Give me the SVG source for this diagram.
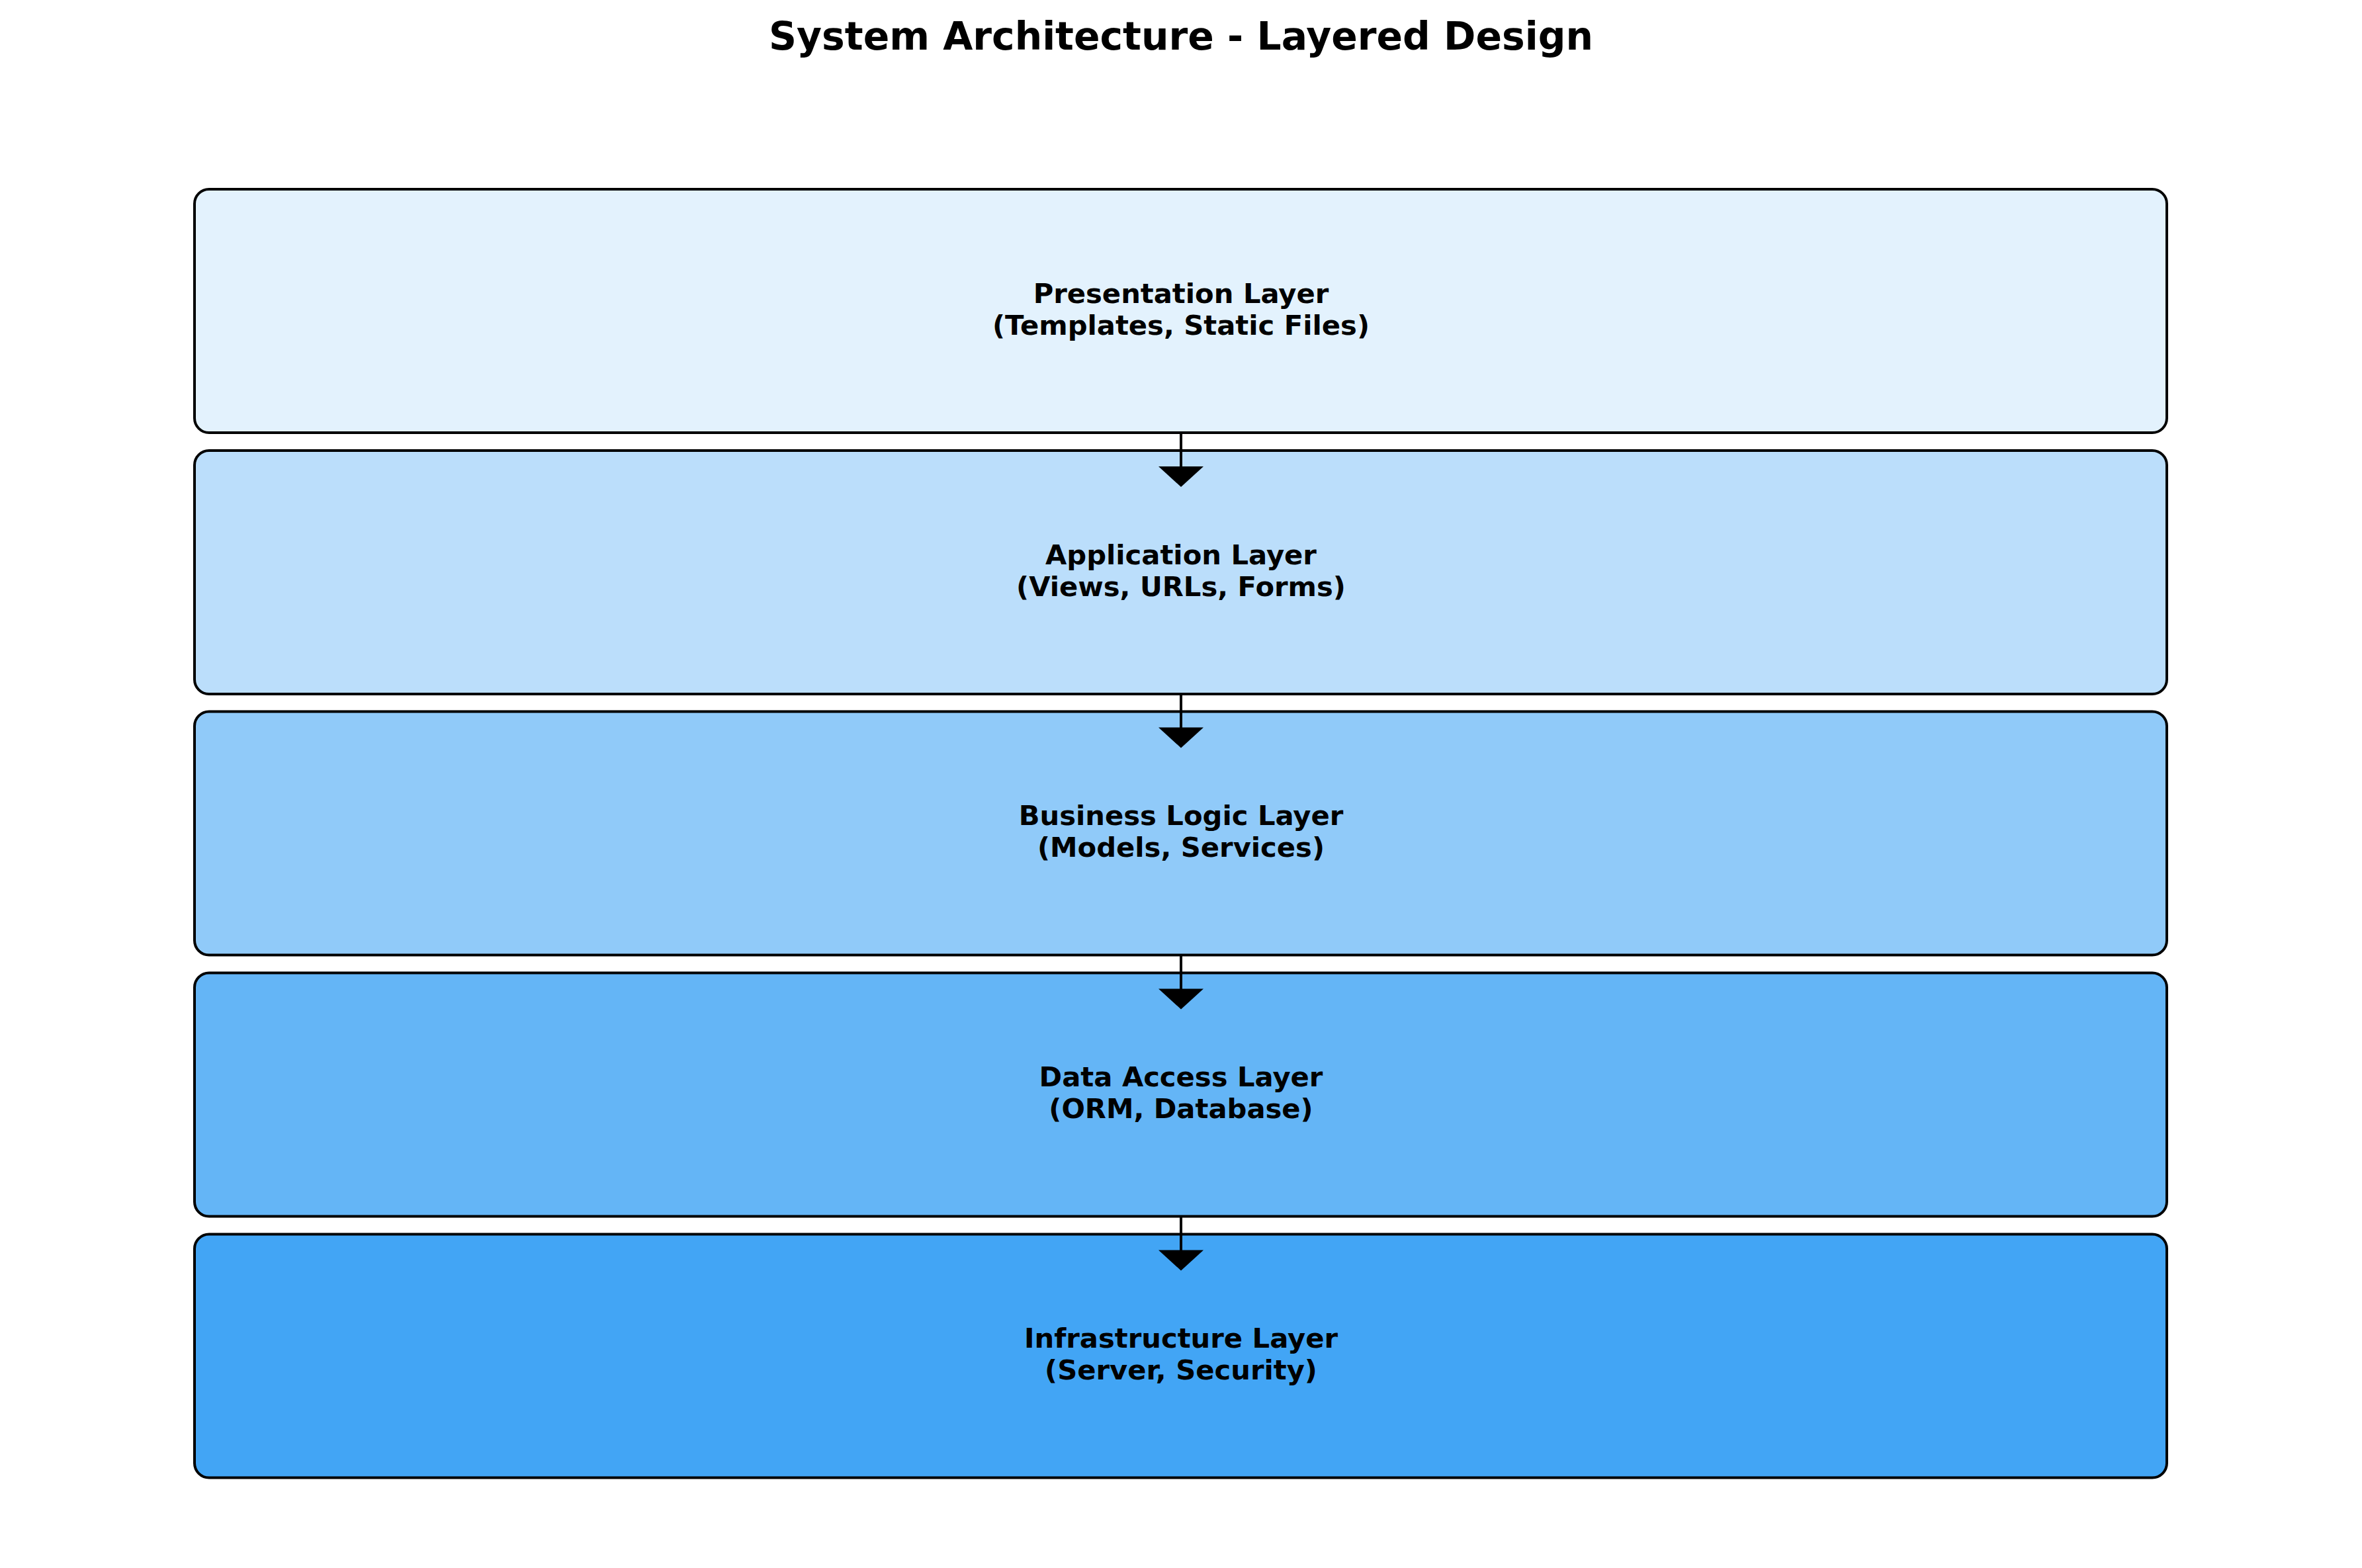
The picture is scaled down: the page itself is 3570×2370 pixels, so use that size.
<svg xmlns="http://www.w3.org/2000/svg" width="3570" height="2370" viewBox="0 0 3570 2370">
<style>
.box{stroke:#000;stroke-width:4}
.lbl{font-family:"DejaVu Sans",sans-serif;font-weight:bold;font-size:41.7px;text-anchor:middle;fill:#000}
.title{font-family:"DejaVu Sans",sans-serif;font-weight:bold;font-size:58.3px;text-anchor:middle;fill:#000}
.conn{stroke:#000;stroke-width:4;fill:none}
.head{fill:#000}
</style>
<rect width="3570" height="2370" fill="#fff"/>
<text class="title" x="1785" y="75">System Architecture - Layered Design</text>
<g id="presentation">
<rect class="box" x="294" y="286" width="2981" height="368" rx="22" fill="#E3F2FD"/>
<text class="lbl" x="1785" y="457.5">Presentation Layer</text>
<text class="lbl" x="1785" y="505.5">(Templates, Static Files)</text>
</g>
<g id="application">
<rect class="box" x="294" y="681" width="2981" height="368" rx="22" fill="#BBDEFB"/>
<text class="lbl" x="1785" y="852.5">Application Layer</text>
<text class="lbl" x="1785" y="900.5">(Views, URLs, Forms)</text>
</g>
<g id="business">
<rect class="box" x="294" y="1075.5" width="2981" height="368" rx="22" fill="#90CAF9"/>
<text class="lbl" x="1785" y="1247">Business Logic Layer</text>
<text class="lbl" x="1785" y="1295">(Models, Services)</text>
</g>
<g id="data">
<rect class="box" x="294" y="1470.5" width="2981" height="368" rx="22" fill="#64B5F6"/>
<text class="lbl" x="1785" y="1642">Data Access Layer</text>
<text class="lbl" x="1785" y="1690">(ORM, Database)</text>
</g>
<g id="infrastructure">
<rect class="box" x="294" y="1865.5" width="2981" height="368" rx="22" fill="#42A5F5"/>
<text class="lbl" x="1785" y="2037">Infrastructure Layer</text>
<text class="lbl" x="1785" y="2085">(Server, Security)</text>
</g>
<g id="connectors">
<line class="conn" x1="1785" y1="654" x2="1785" y2="707"/>
<polygon class="head" points="1751,705 1819,705 1785,736"/>
<line class="conn" x1="1785" y1="1049" x2="1785" y2="1101.5"/>
<polygon class="head" points="1751,1099.5 1819,1099.5 1785,1130.5"/>
<line class="conn" x1="1785" y1="1443.5" x2="1785" y2="1496.5"/>
<polygon class="head" points="1751,1494.5 1819,1494.5 1785,1525.5"/>
<line class="conn" x1="1785" y1="1838.5" x2="1785" y2="1891.5"/>
<polygon class="head" points="1751,1889.5 1819,1889.5 1785,1920.5"/>
</g>
</svg>
